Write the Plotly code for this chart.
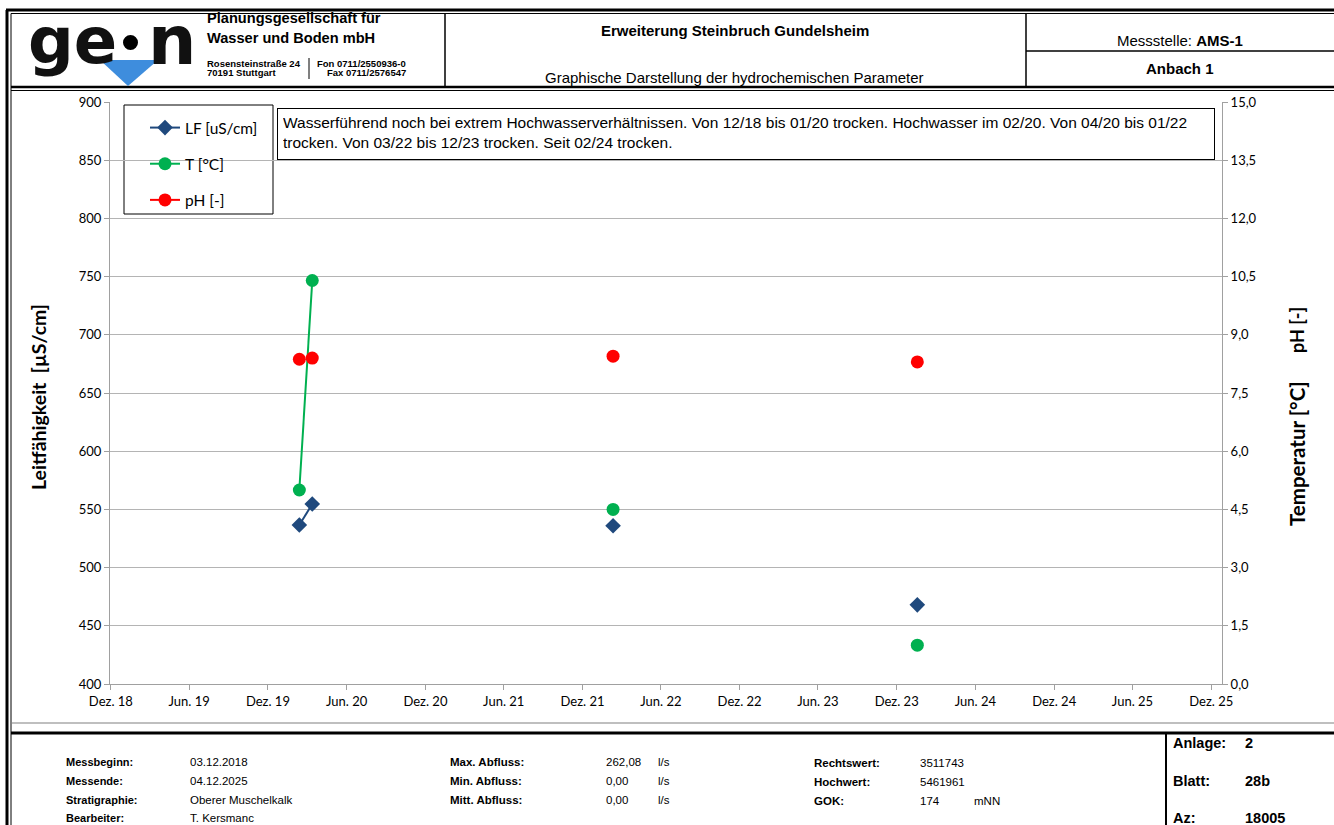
import plotly.graph_objects as go

# Messwerte (Datum der Probenahme, leere Werte = trocken)
lf_dates = ["2020-02-12", "2020-03-13", "2020-04-15", "2022-02-10", "2022-03-15", "2024-01-18"]
lf_values = [536.6, 554.6, None, 536.0, None, 468.0]
t_values = [5.0, 10.4, None, 4.5, None, 1.0]
ph_dates = ["2020-02-12", "2020-02-27", "2020-03-13", "2020-04-15", "2022-02-10", "2022-03-15",
            "2024-01-18"]
ph_values = [8.37, None, 8.40, None, 8.45, None, 8.30]

# Achsenbeschriftung Zeit
tick_dates = ["2018-12-01", "2019-06-01", "2019-12-01", "2020-06-01", "2020-12-01",
              "2021-06-01", "2021-12-01", "2022-06-01", "2022-12-01", "2023-06-01",
              "2023-12-01", "2024-06-01", "2024-12-01", "2025-06-01", "2025-12-01"]
tick_labels = ["Dez. 18", "Jun. 19", "Dez. 19", "Jun. 20", "Dez. 20", "Jun. 21", "Dez. 21",
               "Jun. 22", "Dez. 22", "Jun. 23", "Dez. 23", "Jun. 24", "Dez. 24", "Jun. 25",
               "Dez. 25"]

BLUE = "#1F497D"
GREEN = "#00B050"
RED = "#FF0000"
GRID = "#B4B4B4"
AXIS = "#A0A0A0"
ARIAL = "Liberation Sans, Arial, sans-serif"
CALIBRI = "Lato, Carlito, Calibri, sans-serif"

W, H = 1334, 825
L, R, T, B = 110, 112, 102, 141
PW, PH = W - L - R, H - T - B


## pixel -> paper
def fx(x): return (x - L) / PW
def fy(y): return (H - B - y) / PH


fig = go.Figure()
fig.add_trace(go.Scatter(x=lf_dates, y=lf_values, name="LF [uS/cm]", mode="lines+markers",
                         line=dict(color=BLUE, width=2),
                         marker=dict(symbol="diamond", size=12, color=BLUE),
                         legendgroup="lf"))
fig.add_trace(go.Scatter(x=lf_dates, y=t_values, name="T [°C]", mode="lines+markers", yaxis="y2",
                         line=dict(color=GREEN, width=2),
                         marker=dict(symbol="circle", size=13, color=GREEN),
                         legendgroup="t"))
fig.add_trace(go.Scatter(x=ph_dates, y=ph_values, name="pH [-]", mode="lines+markers", yaxis="y2",
                         line=dict(color=RED, width=2),
                         marker=dict(symbol="circle", size=13, color=RED),
                         legendgroup="ph"))


def line(x0, y0, x1, y1, w=1, c="black"):
    return dict(type="line", xref="paper", yref="paper", x0=fx(x0), y0=fy(y0),
                x1=fx(x1), y1=fy(y1), line=dict(color=c, width=w), layer="above")


def txt(x, y, s, size=11, bold=False, anchor="left", font=ARIAL, color="black"):
    if bold:
        s = "<b>" + s + "</b>"
    return dict(x=fx(x), y=fy(y), xref="paper", yref="paper", text=s, showarrow=False,
                xanchor=anchor, yanchor="middle", font=dict(family=font, size=size, color=color))


shapes = [
    # Rahmen oben / links
    line(6, 10, W, 10, 3), line(11, 13.5, W, 13.5, 1),
    line(7, 10, 7, H, 3), line(11, 13.5, 11, H, 1),
    # Kopf unten
    line(11, 87, W, 87, 2.5), line(11, 90.5, W, 90.5, 1),
    line(445, 13.5, 445, 87, 1.5), line(1026, 13.5, 1026, 87, 1.5),
    line(1026, 51, W, 51, 1.5),
    line(309, 58, 309, 79, 1),
    # Fuss
    line(11, 723, W, 723, 1.2, "#808080"), line(11, 733, W, 733, 3),
    line(1166, 733, 1166, H, 2),
    # Legendenrahmen
    dict(type="rect", xref="paper", yref="paper", x0=fx(124), y0=fy(105), x1=fx(273), y1=fy(214),
         line=dict(color="black", width=1), fillcolor="white", layer="below"),
    # Logo
    dict(type="path", xref="paper", yref="paper", layer="above",
         path="M %f %f L %f %f L %f %f Z" % (fx(100), fy(60), fx(158), fy(60), fx(128), fy(86)),
         fillcolor="#3E8DDD", line=dict(width=0)),
    dict(type="circle", xref="paper", yref="paper", layer="above",
         x0=fx(123), y0=fy(35), x1=fx(138), y1=fy(50), fillcolor="black", line=dict(width=0)),
]

annotations = [
    # Logo
    dict(x=fx(26), y=fy(41), xref="paper", yref="paper", text="<b>ge</b>", showarrow=False,
         xanchor="left", yanchor="middle", font=dict(family="DejaVu Sans", size=64, color="#111111")),
    dict(x=fx(146), y=fy(41), xref="paper", yref="paper", text="<b>n</b>", showarrow=False,
         xanchor="left", yanchor="middle", font=dict(family="DejaVu Sans", size=68, color="#111111")),
    txt(205, 18, "Planungsgesellschaft für", 14.6, True),
    txt(205, 38, "Wasser und Boden mbH", 14.6, True),
    txt(205, 63, "Rosensteinstraße 24", 9.5, True),
    txt(205, 73, "70191 Stuttgart", 9.5, True),
    txt(408, 63, "Fon 0711/2550936-0", 9.5, True, "right"),
    txt(408, 73, "Fax 0711/2576547", 9.5, True, "right"),
    # Kopf Mitte / rechts
    txt(735, 30, "Erweiterung Steinbruch Gundelsheim", 15, True, "center"),
    txt(735, 78, "Graphische Darstellung der hydrochemischen Parameter", 15, False, "center"),
    txt(1180, 41, "Messstelle: <b>AMS-1</b>", 15, False, "center"),
    txt(1180, 68, "Anbach 1", 15, True, "center"),
    # Hinweis
    dict(x=fx(277), y=fy(108), xref="paper", yref="paper", showarrow=False,
         xanchor="left", yanchor="top", align="left", valign="top", width=926, height=40,
         borderpad=5, bordercolor="black", borderwidth=1, bgcolor="white",
         font=dict(family=ARIAL, size=15.5, color="black"),
         text="Wasserführend noch bei extrem Hochwasserverhältnissen. Von 12/18 bis 01/20 trocken. "
              "Hochwasser im 02/20. Von 04/20 bis 01/22<br>trocken. Von 03/22 bis 12/23 trocken. "
              "Seit 02/24 trocken."),
    # Achsentitel
    dict(x=fx(38), y=fy(397), xref="paper", yref="paper", text="<b>Leitfähigkeit  [µS/cm]</b>",
         showarrow=False, textangle=-90, xanchor="center", yanchor="middle",
         font=dict(family=CALIBRI, size=19.5, color="black")),
    dict(x=fx(1297), y=fy(330), xref="paper", yref="paper", text="<b>pH [-]</b>",
         showarrow=False, textangle=-90, xanchor="center", yanchor="middle",
         font=dict(family=CALIBRI, size=18, color="black")),
    dict(x=fx(1297), y=fy(454), xref="paper", yref="paper", text="<b>Temperatur [°C]</b>",
         showarrow=False, textangle=-90, xanchor="center", yanchor="middle",
         font=dict(family=CALIBRI, size=20.5, color="black")),
    # Fuss
    txt(64, 762, "Messbeginn:", 11, True), txt(188, 762, "03.12.2018", 11.5),
    txt(64, 781, "Messende:", 11, True), txt(188, 781, "04.12.2025", 11.5),
    txt(64, 800, "Stratigraphie:", 11, True), txt(188, 800, "Oberer Muschelkalk", 11.5),
    txt(64, 818, "Bearbeiter:", 11, True), txt(188, 818, "T. Kersmanc", 11.5),
    txt(448, 762, "Max. Abfluss:", 11.5, True), txt(604, 762, "262,08", 11.5), txt(656, 762, "l/s", 11.5),
    txt(448, 781, "Min. Abfluss:", 11.5, True), txt(604, 781, "0,00", 11.5), txt(656, 781, "l/s", 11.5),
    txt(448, 800, "Mitt. Abfluss:", 11.5, True), txt(604, 800, "0,00", 11.5), txt(656, 800, "l/s", 11.5),
    txt(812, 763, "Rechtswert:", 11.5, True), txt(918, 763, "3511743", 11.5),
    txt(812, 782, "Hochwert:", 11.5, True), txt(918, 782, "5461961", 11.5),
    txt(812, 801, "GOK:", 11.5, True), txt(918, 801, "174", 11.5), txt(972, 801, "mNN", 11.5),
    txt(1171, 743, "Anlage:", 14.5, True), txt(1243, 743, "2", 14.5, True),
    txt(1171, 781, "Blatt:", 14.5, True), txt(1243, 781, "28b", 14.5, True),
    txt(1171, 818, "Az:", 14.5, True), txt(1243, 818, "18005", 14.5, True),
]

fig.update_layout(
    width=W, height=H,
    margin=dict(l=L, r=R, t=T, b=B, pad=0),
    paper_bgcolor="white", plot_bgcolor="white",
    separators=",.",
    font=dict(family=CALIBRI, size=13, color="black"),
    showlegend=True,
    legend=dict(x=fx(145), y=fy(111), xanchor="left", yanchor="top",
                bgcolor="rgba(0,0,0,0)", borderwidth=0, tracegroupgap=13,
                traceorder="grouped", font=dict(family=CALIBRI, size=15.5, color="black")),
    xaxis=dict(type="date", range=["2018-11-29", "2025-12-26"], tickvals=tick_dates,
               ticktext=tick_labels, ticks="outside", ticklen=5, tickcolor=AXIS,
               showline=True, linecolor=AXIS, linewidth=1, showgrid=False, zeroline=False,
               tickfont=dict(size=13), tickangle=0),
    yaxis=dict(range=[400, 900], tick0=400, dtick=50, ticks="outside", ticklen=5, tickcolor=AXIS,
               showline=True, linecolor=AXIS, showgrid=True, gridcolor=GRID, gridwidth=1,
               zeroline=False, tickfont=dict(size=13)),
    yaxis2=dict(range=[0, 15], tick0=0, dtick=1.5, tickformat=".1f", overlaying="y", side="right",
                ticks="outside", ticklen=5, tickcolor=AXIS, showline=True, linecolor=AXIS,
                showgrid=False, zeroline=False, tickfont=dict(size=13)),
    shapes=shapes,
    annotations=annotations,
)

fig.write_html("out.html", config={"displayModeBar": False},
               post_script="document.body.style.margin='0';document.body.style.overflow='hidden';")
